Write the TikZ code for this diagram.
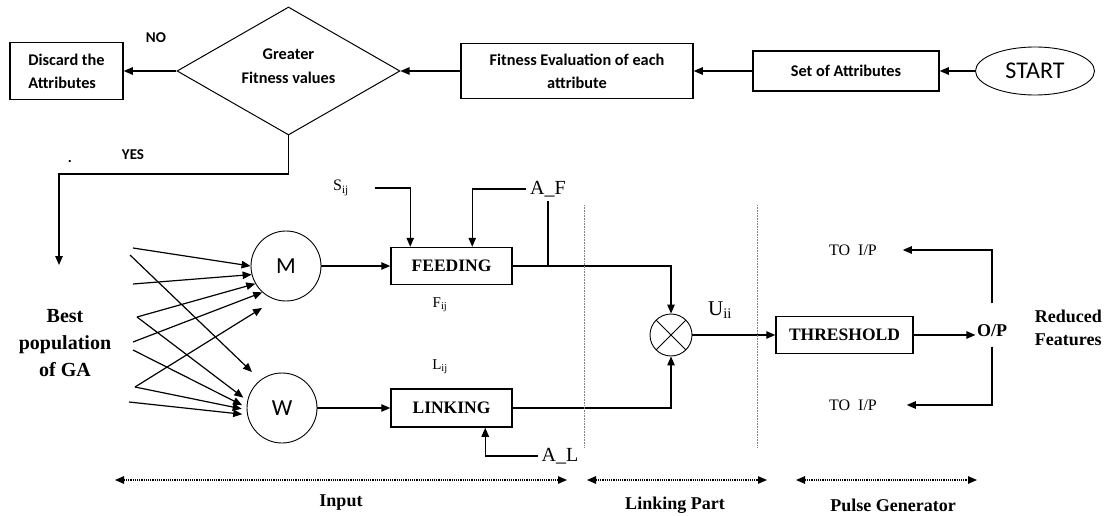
\documentclass[tikz,border=0pt]{standalone}
\usepackage{fontspec}
\setmainfont{Liberation Serif}
\newfontfamily\calfont{Carlito}
\usetikzlibrary{shapes.geometric,arrows.meta}

\begin{document}
\begin{tikzpicture}[x=1pt,y=-1pt,line width=1.2,
		blk/.style={draw,line width=1.5,inner sep=2pt,align=center,font=\calfont\bfseries\fontsize{16.3}{23}\selectfont},
		sblk/.style={draw,line width=1.5,inner sep=2pt,font=\bfseries\fontsize{17.5}{20}\selectfont},
		nrn/.style={draw,circle,line width=0.9,minimum size=70,inner sep=0,font=\calfont\fontsize{23}{26}\selectfont},
		arr/.style={-{Triangle[length=9pt,width=7.5pt]}},
		dimarr/.style={densely dotted,line width=1.2,{Triangle[length=9pt,width=7.5pt]}-{Triangle[length=9pt,width=7.5pt]}},
		lbl/.style={font=\bfseries\fontsize{18}{23}\selectfont},
		thin/.style={font=\fontsize{16}{18}\selectfont}]
			\useasboundingbox (0,0) rectangle (1104,516);
			\node[blk,align=left,minimum width=113,minimum height=57] (disc) at (66.5,71) {Discard the\\Attributes};
			\node[diamond,draw,line width=1,aspect=1.74,minimum width=223,minimum height=128,inner sep=0,align=center,font=\calfont\bfseries\fontsize{16.3}{24}\selectfont] (fitq) at (288.5,71) {Greater\\Fitness values\\[-15pt]};
			\node[blk,minimum width=232,minimum height=55] (fit) at (577,71) {Fitness Evaluation of each\\attribute};
			\node[blk,minimum width=186,minimum height=40] (set) at (846,71) {Set of Attributes};
			\node[ellipse,draw,line width=0.9,minimum width=119,minimum height=48,inner sep=0,font=\calfont\fontsize{24}{26}\selectfont] (start) at (1035,71) {START};
			\node[font=\calfont\bfseries\fontsize{15}{17}\selectfont] (no) at (156,38) {NO};
			\node[font=\calfont\bfseries\fontsize{15}{17}\selectfont] (yes) at (133,155) {YES};
			\node[font=\calfont\bfseries\fontsize{15}{17}\selectfont] (dot) at (70,161) {.};
			\draw[arr] (start) -- (set);
			\draw[arr] (set) -- (fit);
			\draw[arr] (fit) -- (fitq);
			\draw[arr] (fitq) -- (disc);
			\node[align=center,font=\bfseries\fontsize{20}{27}\selectfont] (pop) at (65,343) {Best\\population\\of GA};
			\coordinate (yesbend) at (59,174);
			\coordinate (popin) at (59,265);
			\draw[arr] (fitq.south) |- (yesbend) -- (popin);
			\node[nrn] (M) at (286,266) {M};
			\node[nrn] (W) at (282,408) {W};
			\coordinate (p1) at (133,248);
			\coordinate (p2) at (130,255);
			\coordinate (p3) at (133,284);
			\coordinate (p4) at (137,317);
			\coordinate (p6) at (133,342);
			\coordinate (p7) at (133,350);
			\coordinate (p8) at (135,387);
			\coordinate (p10) at (129,402);
			\coordinate (q2) at (252,372);
			\coordinate (q8) at (262,308);
			\foreach \s/\t in {p1/M.180,p3/M.194,p4/M.210,p6/M.228}
				\draw[arr] (\s) -- (\t);
			\foreach \s/\t in {p4/W.168,p7/W.179,p8/W.183,p10/W.191}
				\draw[arr,shorten >=5pt] (\s) -- (\t);
			\draw[arr] (p2) -- (q2);
			\draw[arr] (p8) -- (q8);
			\node[sblk,minimum width=121,minimum height=37] (feed) at (451.5,266) {FEEDING};
			\node[sblk,minimum width=121,minimum height=38] (link) at (451.5,408) {LINKING};
			\draw[arr] (M) -- (feed);
			\draw[arr] (W) -- (link);
			\node[thin] (sij) at (341,188) {S\textsubscript{ij}};
			\node[font=\fontsize{20}{22}\selectfont] (af) at (548,189) {A\_F};
			\draw[arr,shorten <=22pt] (sij.east) -| ([xshift=20pt]feed.north west);
			\draw[arr] (af.west) -| ([xshift=82pt]feed.north west);
			\draw (af.south) -- (af.south |- feed.east);
			\node[font=\fontsize{15}{17}\selectfont] (fij) at (440,305) {F\textsubscript{ij}};
			\node[font=\fontsize{15}{17}\selectfont] (lij) at (440,367) {L\textsubscript{ij}};
			\node[circle,draw,line width=0.9,minimum size=42,inner sep=0,
				path picture={\draw[line width=0.9] (path picture bounding box.north west) -- (path picture bounding box.south east)
					(path picture bounding box.south west) -- (path picture bounding box.north east);}] (mult) at (671,335) {};
			\draw[arr] (feed.east) -| (mult.north);
			\draw[arr] (link.east) -| (mult.south);
			\node[font=\fontsize{20}{22}\selectfont] (al) at (560,456) {A\_L};
			\draw[arr] (al.west) -| ([xshift=95pt]link.south west);
			\node[font=\fontsize{21}{24}\selectfont] (uii) at (720,310) {U\textsubscript{ii}};
			\node[sblk,minimum width=137,minimum height=37] (thr) at (844.5,335) {THRESHOLD};
			\node[font=\bfseries\fontsize{18}{20}\selectfont,inner sep=1pt] (op) at (992,331) {O/P};
			\draw[arr] (mult) -- (thr);
			\draw[arr] (thr.east) -- (thr.east -| op.west);
			\node[thin] (toa) at (853,250) {TO\ \ I/P};
			\node[thin] (tob) at (853,405) {TO\ \ I/P};
			\draw[arr] ([yshift=20pt]op.north) |- ([xshift=22pt]toa.east);
			\draw[arr] ([yshift=-8pt]op.south) |- ([xshift=26pt]tob.east);
			\node[lbl,align=left,anchor=west] (red) at (1031,328) {Reduced\\Features};
			\draw[densely dotted,gray,line width=0.6] (584,205) -- (584,447);
			\draw[densely dotted,gray,line width=0.6] (757,205) -- (757,447);
			\node[lbl] (inp) at (341,503) {Input};
			\node[lbl] (lnk) at (675,505) {Linking Part};
			\node[lbl] (pls) at (893,505) {Pulse Generator};
			\draw[dimarr] (115,480) -- (567,480);
			\draw[dimarr] (587,480) -- (767,480);
			\draw[dimarr] (796,480) -- (977,480);
		\end{tikzpicture}
\end{document}
